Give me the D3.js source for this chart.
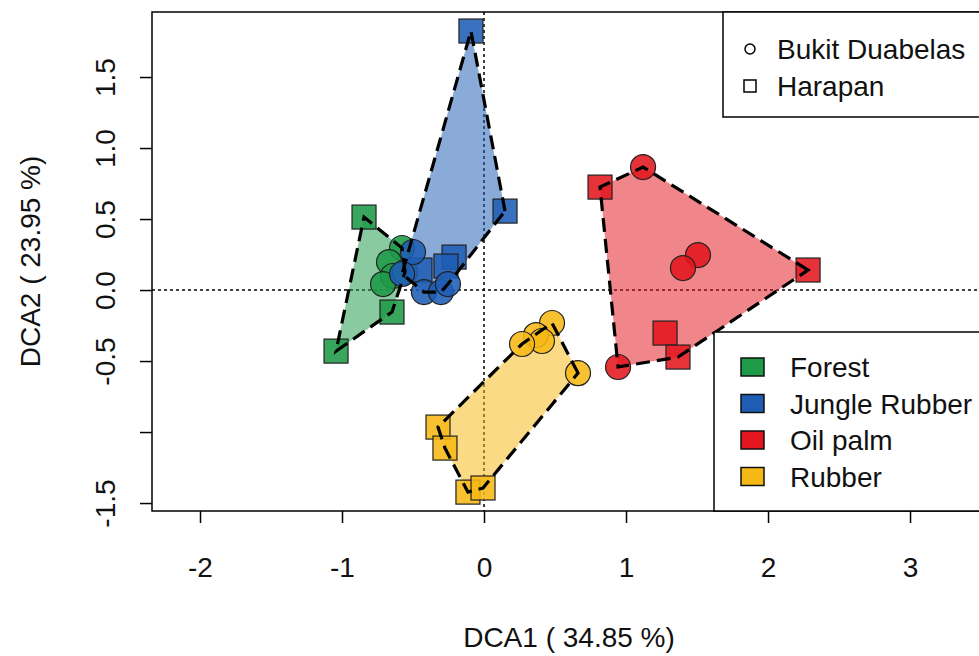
<!DOCTYPE html>
<html><head><meta charset="utf-8">
<script src="https://cdn.jsdelivr.net/npm/d3@7"></script>
<style>body{margin:0;background:#fff}svg{display:block}text{font-family:"Liberation Sans",Arial,sans-serif}</style>
</head><body>
<script>
const groups = ["Forest","Jungle Rubber","Oil palm","Rubber"];
const groupColors = ["#1e9a48","#1f5db5","#e3161e","#f6b814"];
const sites = ["Bukit Duabelas","Harapan"];
const siteShapes = ["circle","square"];
const xTicks = [-2,-1,0,1,2,3];
const yTicks = [-1.5,-1.0,-0.5,0.0,0.5,1.0,1.5];
const yTickLabels = ["-1.5","","-0.5","0.0","0.5","1.0","1.5"];
const xLabel = "DCA1 ( 34.85 %)";
const yLabel = "DCA2 ( 23.95 %)";
// [DCA1, DCA2, site index]
const forestPts = [[-0.845,0.514,1],[-1.042,-0.430,1],[-0.648,-0.155,1],
  [-0.577,0.296,0],[-0.669,0.197,0],[-0.641,0.099,0],[-0.711,0.042,0],[-0.556,0.127,0]];
const jungleRubberPts = [[-0.092,1.824,1],[0.148,0.556,1],[-0.211,0.232,1],[-0.268,0.169,1],[-0.451,0.141,1],
  [-0.500,0.268,0],[-0.577,0.113,0],[-0.423,-0.014,0],[-0.303,-0.014,0],[-0.254,0.042,0]];
const oilPalmPts = [[1.120,0.866,0],[1.507,0.246,0],[1.401,0.155,0],[0.944,-0.542,0],
  [0.817,0.725,1],[2.282,0.141,1],[1.275,-0.303,1],[1.366,-0.472,1]];
const rubberPts = [[0.479,-0.232,0],[0.366,-0.317,0],[0.408,-0.359,0],[0.268,-0.380,0],[0.662,-0.585,0],
  [-0.324,-0.965,1],[-0.275,-1.113,1],[-0.113,-1.423,1],[-0.007,-1.394,1]];
const groupPts = [forestPts, jungleRubberPts, oilPalmPts, rubberPts];

const W=979,H=656, FS=28;
const L=152,R=986,T=12,B=511;
const x=d3.scaleLinear().domain([-2.338,3.535]).range([L,R]);
const y=d3.scaleLinear().domain([-1.556,1.958]).range([B,T]);
const svg=d3.select("body").append("svg").attr("width",W).attr("height",H);

// zero lines
svg.append("line").attr("x1",L).attr("x2",R).attr("y1",y(0)).attr("y2",y(0))
  .attr("stroke","#000").attr("stroke-width",1.5).attr("stroke-dasharray","3,3");
svg.append("line").attr("x1",x(0)).attr("x2",x(0)).attr("y1",T).attr("y2",B)
  .attr("stroke","#000").attr("stroke-width",1.5).attr("stroke-dasharray","3,3");

// hull fills
const hulls = groupPts.map(p=>d3.polygonHull(p.map(d=>[x(d[0]),y(d[1])])));
svg.append("g").selectAll("path").data(hulls).join("path")
  .attr("d",h=>"M"+h.join("L")+"Z")
  .attr("fill",(h,i)=>groupColors[i]).attr("fill-opacity",0.52).attr("stroke","none");

// points
const pg=svg.append("g");
groupPts.forEach((pts,gi)=>{
  pts.forEach(d=>{
    const cx=x(d[0]), cy=y(d[1]);
    if(siteShapes[d[2]]==="circle"){
      pg.append("circle").attr("cx",cx).attr("cy",cy).attr("r",12.5)
        .attr("fill",groupColors[gi]).attr("fill-opacity",0.88).attr("stroke","#222").attr("stroke-width",1.2);
    } else {
      pg.append("rect").attr("x",cx-12).attr("y",cy-12).attr("width",24).attr("height",24)
        .attr("fill",groupColors[gi]).attr("fill-opacity",0.88).attr("stroke","#222").attr("stroke-width",1.2);
    }
  });
});

// hull outlines
svg.append("g").selectAll("path").data(hulls).join("path")
  .attr("d",h=>"M"+h.join("L")+"Z")
  .attr("fill","none").attr("stroke","#000").attr("stroke-width",3.2).attr("stroke-dasharray","14,7");

// frame
svg.append("rect").attr("x",L).attr("y",T).attr("width",R-L).attr("height",B-T)
  .attr("fill","none").attr("stroke","#000").attr("stroke-width",1.5);

// axes
const xa=svg.append("g").attr("transform",`translate(0,${B})`)
  .call(d3.axisBottom(x).tickValues(xTicks).tickSize(12).tickPadding(0).tickFormat(d=>String(d)));
xa.select(".domain").remove();
xa.selectAll("line").attr("stroke-width",1.5);
xa.selectAll("text").attr("font-size",FS).attr("fill","#111").attr("dy",null).attr("y",66).attr("font-family","Liberation Sans, Arial, sans-serif");
const ya=svg.append("g").attr("transform",`translate(${L},0)`)
  .call(d3.axisLeft(y).tickValues(yTicks).tickSize(12).tickFormat((d,i)=>yTickLabels[i]));
ya.select(".domain").remove();
ya.selectAll("line").attr("stroke-width",1.5);
ya.selectAll("text").attr("font-size",FS).attr("fill","#111").attr("text-anchor","middle")
  .attr("x",null).attr("dy",null).attr("transform","translate(-37,0) rotate(-90)").attr("font-family","Liberation Sans, Arial, sans-serif");

svg.append("text").attr("x",(L+R)/2).attr("y",647).attr("text-anchor","middle")
  .attr("font-size",FS).attr("fill","#111").text(xLabel);
svg.append("text").attr("transform",`translate(40,${(T+B)/2}) rotate(-90)`).attr("text-anchor","middle")
  .attr("font-size",FS).attr("fill","#111").text(yLabel);

// legend 1: sites
const l1=svg.append("g");
l1.append("rect").attr("x",723).attr("y",T).attr("width",300).attr("height",117-T)
  .attr("fill","#fff").attr("stroke","#000").attr("stroke-width",1.5);
sites.forEach((s,i)=>{
  const cy=49+i*37;
  if(siteShapes[i]==="circle") l1.append("circle").attr("cx",750).attr("cy",cy).attr("r",5).attr("fill","none").attr("stroke","#000").attr("stroke-width",1.5);
  else l1.append("rect").attr("x",744).attr("y",cy-6).attr("width",12).attr("height",12).attr("fill","none").attr("stroke","#000").attr("stroke-width",1.5);
  l1.append("text").attr("x",777).attr("y",cy+10).attr("font-size",FS).attr("fill","#111").text(s);
});
// legend 2: groups
const l2=svg.append("g");
l2.append("rect").attr("x",714).attr("y",332).attr("width",300).attr("height",B-332)
  .attr("fill","#fff").attr("stroke","#000").attr("stroke-width",1.5);
groups.forEach((g,i)=>{
  const cy=367+i*36.5;
  l2.append("rect").attr("x",741).attr("y",cy-9).attr("width",23).attr("height",18)
    .attr("fill",groupColors[i]).attr("stroke","#111").attr("stroke-width",1.5);
  l2.append("text").attr("x",790).attr("y",cy+10).attr("font-size",FS).attr("fill","#111").text(g);
});
</script>
</body></html>
